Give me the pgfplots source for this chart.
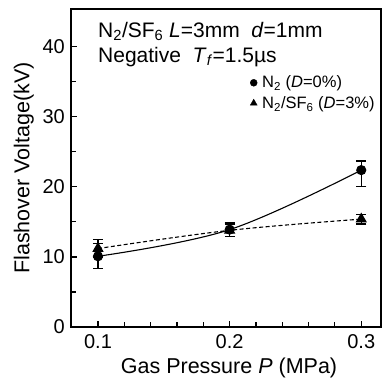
\documentclass[border=0pt]{standalone}
\usepackage{pgfplots}
\pgfplotsset{compat=1.18}
\usepackage{fontspec}
\setmainfont{Liberation Sans}
\begin{document}
\begin{tikzpicture}
\begin{axis}[
  name=ax,
  scale only axis,
  width=310pt, height=318pt,
  xmin=0.0795, xmax=0.315,
  ymin=0, ymax=45.4,
  xtick={0.1,0.2,0.3},
  xticklabels={0.1,0.2,0.3},
  minor xtick={0.12,0.14,0.16,0.18,0.22,0.24,0.26,0.28},
  ytick={0,10,20,30,40},
  minor ytick={5,15,25,35},
  tick align=inside,
  major tick length=6pt,
  minor tick length=5pt,
  xtick pos=bottom, ytick pos=left,
  tick style={black, line width=1.1pt},
  axis line style={line width=1.3pt},
  /pgf/number format/assume math mode=true,
  tick label style={font=\fontsize{20}{24}\selectfont, inner sep=0pt},
  xticklabel style={anchor=base, yshift=-21.5pt},
  yticklabel style={anchor=east, xshift=-6pt},
  xlabel={Gas Pressure \textit{P} (MPa)},
  ylabel={Flashover Voltage(kV)},
  label style={font=\fontsize{21.5}{25}\selectfont},
  xlabel style={at={(axis description cs:0.5,0)}, anchor=base, yshift=-46pt, xshift=3pt, inner sep=0pt},
  ylabel style={at={(axis description cs:-0.152,0.5)}, anchor=center, rotate=0},
  legend style={draw=none, fill=none, at={(axis cs:0.2155,36.0)}, anchor=north west,
    font=\fontsize{16.5}{19}\selectfont, row sep=5pt, inner sep=0pt,
    nodes={inner sep=1pt, inner xsep=5pt}},
  legend cell align=left,
]
\addplot[black, line width=1.1pt, smooth, tension=0.6, mark=*, mark size=4.5pt, forget plot,
  error bars/.cd, y dir=both, y explicit, error mark options={rotate=90, mark size=5pt, line width=1.1pt}, error bar style={line width=1.1pt}]
  table[x=x, y=y, y error plus=ep, y error minus=em] {
  x y ep em
  0.1 10.1 1.8 1.7
  0.2 13.9 1.0 1.0
  0.3 22.4 1.3 2.3
};
\addplot[black, line width=1.1pt, smooth, tension=0.6, dash pattern=on 4pt off 2.5pt, mark=triangle*, mark size=5.5pt, mark options={solid}, forget plot,
  error bars/.cd, y dir=both, y explicit, error mark options={rotate=90, mark size=5pt, line width=1.1pt, solid}, error bar style={line width=1.1pt, solid}]
  table[x=x, y=y, y error plus=ep, y error minus=em] {
  x y ep em
  0.1 11.2 1.3 1.2
  0.2 13.8 0.9 0.9
  0.3 15.4 0.7 0.7
};
\addlegendimage{only marks, mark=*, mark size=3.5pt, black}
\addlegendentry{N\textsubscript{2} (\textit{D}=0\%)}
\addlegendimage{only marks, mark=triangle*, mark size=4pt, black}
\addlegendentry{N\textsubscript{2}/SF\textsubscript{6} (\textit{D}=3\%)}
\node[anchor=base west, font=\fontsize{21}{25}\selectfont, inner sep=0pt] at (axis cs:0.1,41.4) {N\textsubscript{2}/SF\textsubscript{6} \textit{L}=3mm~~\textit{d}=1mm};
\node[anchor=base west, font=\fontsize{21}{25}\selectfont, inner sep=0pt] at (axis cs:0.1,37.8) {Negative~~\textit{T}\textsubscript{\textit{f}}=1.5\textmu s};
\end{axis}
\pgfresetboundingbox
\useasboundingbox (ax.south west) ++(-71pt,-51pt) rectangle ++(382pt,378pt);
\end{tikzpicture}
\end{document}
